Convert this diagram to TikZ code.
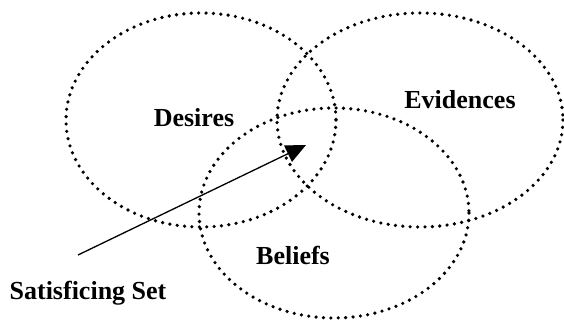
\documentclass[tikz,border=0pt]{standalone}
\usepackage{fontspec}
\setmainfont{Liberation Serif}
\usetikzlibrary{arrows.meta}
\begin{document}
\begin{tikzpicture}[x=1pt,y=-1pt,
  setring/.style={draw=black, line width=3.6pt, line cap=round, dash pattern=on 0pt off 7.4pt},
  setlabel/.style={font=\bfseries\fontsize{26}{31}\selectfont, inner sep=0pt}]
  \useasboundingbox (0,0) rectangle (564,323);
  % the three overlapping sets
  \draw[setring] (201,120) ellipse [x radius=135, y radius=107];
  \draw[setring] (420,120) ellipse [x radius=143, y radius=107];
  \draw[setring] (334,213) ellipse [x radius=135, y radius=105];
  % labels
  \node[setlabel] (des) at (194,118) {Desires};
  \node[setlabel] (evi) at (460,100) {Evidences};
  \node[setlabel] (bel) at (293,255) {Beliefs};
  \node[setlabel] (sat) at (88,293) {Satisficing Set};
  % pointer into the common region
  \coordinate (tail) at (78,255);
  \coordinate (core) at (306,145);
  \draw[line width=1.3pt, -{Triangle[length=20pt,width=18pt]}] (tail) -- (core);
\end{tikzpicture}
\end{document}
